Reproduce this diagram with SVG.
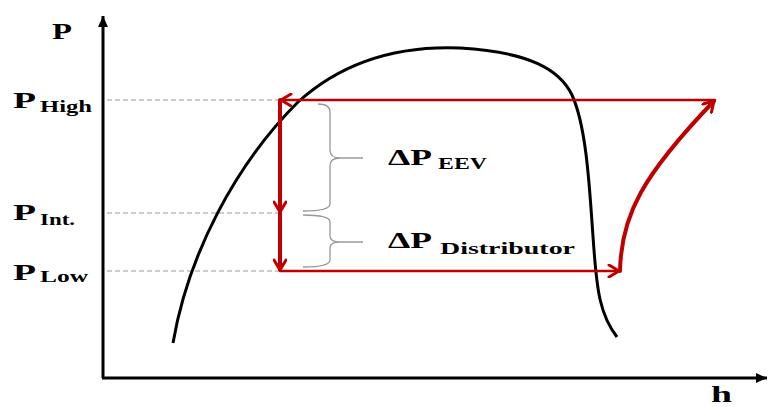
<svg xmlns="http://www.w3.org/2000/svg" width="768" height="407" viewBox="0 0 768 407">
<style>
.lbl{font-family:"Liberation Serif","DejaVu Serif",serif;font-weight:bold;fill:#000}
.big{font-size:23px}
.sub{font-size:16.5px}
.dash{stroke:#999;stroke-width:1;stroke-dasharray:5,3;fill:none}
.red{stroke:#c00000;fill:none;stroke-linecap:round;stroke-linejoin:round}
.brace{stroke:#999;stroke-width:1.3;fill:none}
</style>
<defs>
<marker id="ah" markerWidth="14" markerHeight="14" refX="0" refY="0" viewBox="-12 -7 14 14" orient="auto" markerUnits="userSpaceOnUse">
<path d="M-10,-6 L0,0 L-10,6" fill="none" stroke="#c00000" stroke-width="3" stroke-linecap="round" stroke-linejoin="round"/>
</marker>
<marker id="ax" markerWidth="14" markerHeight="14" refX="0" refY="0" viewBox="-12 -7 14 14" orient="auto" markerUnits="userSpaceOnUse">
<path d="M-11,-5 L0,0 L-11,5 Z" fill="#000"/>
</marker>
</defs>
<g id="axes">
<line x1="103" y1="378" x2="103" y2="16" stroke="#000" stroke-width="3" marker-end="url(#ax)"/>
<line x1="102" y1="378" x2="767" y2="378" stroke="#000" stroke-width="3" marker-end="url(#ax)"/>
</g>
<g id="dashes">
<line class="dash" x1="107" y1="100" x2="278" y2="100"/>
<line class="dash" x1="107" y1="213" x2="278" y2="213"/>
<line class="dash" x1="107" y1="271" x2="278" y2="271"/>
</g>
<g id="dome">
<path d="M173,343 C188,255 235,165 298,102 C350,55 410,46 460,48 C530,52 560,70 572,95 C588,130 590,200 594,250 C597,290 600,315 617,337" fill="none" stroke="#000" stroke-width="3"/>
</g>
<g id="braces">
<path class="brace" d="M318,104 Q330,104 330,112 L330,150 Q330,158 340,158 L363,158 M340,158 Q330,158 330,166 L330,204 Q330,211 303,211"/>
<path class="brace" d="M303,215 Q330,215 330,222 L330,236 Q330,242 340,242 L363,242 M340,242 Q330,242 330,248 L330,260 Q330,267 303,267"/>
</g>
<g id="connectors">
<line class="red" x1="715" y1="100" x2="281" y2="100" stroke-width="2.5" marker-end="url(#ah)"/>
<line class="red" x1="280" y1="100" x2="280" y2="212" stroke-width="4" marker-end="url(#ah)"/>
<line class="red" x1="280" y1="213" x2="280" y2="270" stroke-width="4" marker-end="url(#ah)"/>
<line class="red" x1="280" y1="271" x2="619" y2="271" stroke-width="2.5" marker-end="url(#ah)"/>
<path class="red" d="M620,271 C621,215 643,175 714,101" stroke-width="4" marker-end="url(#ah)"/>
</g>
<g id="labels">
<text class="lbl big" x="52" y="39" textLength="20" lengthAdjust="spacingAndGlyphs">P</text>
<text class="lbl big" x="13" y="108" textLength="23" lengthAdjust="spacingAndGlyphs">P</text>
<text class="lbl sub" x="40" y="112" textLength="52" lengthAdjust="spacingAndGlyphs">High</text>
<text class="lbl big" x="13" y="220" textLength="23" lengthAdjust="spacingAndGlyphs">P</text>
<text class="lbl sub" x="40" y="225" textLength="35" lengthAdjust="spacingAndGlyphs">Int.</text>
<text class="lbl big" x="13" y="280" textLength="23" lengthAdjust="spacingAndGlyphs">P</text>
<text class="lbl sub" x="40" y="282" textLength="48" lengthAdjust="spacingAndGlyphs">Low</text>
<text class="lbl big" x="388" y="165" textLength="44" lengthAdjust="spacingAndGlyphs">ΔP</text>
<text class="lbl sub" x="438" y="169" textLength="49" lengthAdjust="spacingAndGlyphs">EEV</text>
<text class="lbl big" x="388" y="248" textLength="44" lengthAdjust="spacingAndGlyphs">ΔP</text>
<text class="lbl sub" x="440" y="254" textLength="135" lengthAdjust="spacingAndGlyphs">Distributor</text>
<text class="lbl big" x="711" y="402" textLength="21" lengthAdjust="spacingAndGlyphs">h</text>
</g>
</svg>
